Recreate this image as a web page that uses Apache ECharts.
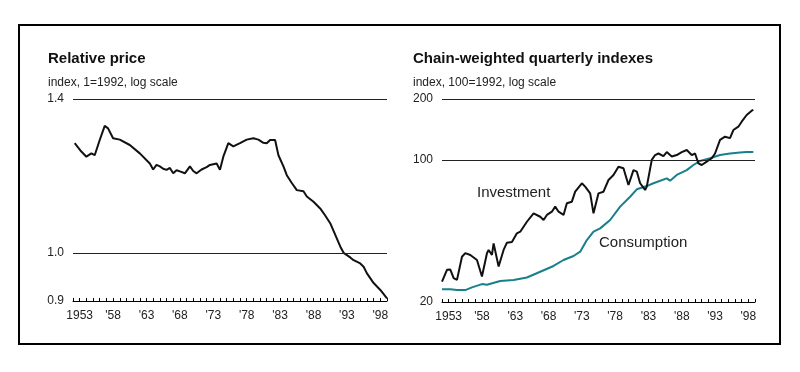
<!DOCTYPE html>
<html>
<head>
<meta charset="utf-8">
<script src="https://cdn.jsdelivr.net/npm/echarts@6/dist/echarts.min.js"></script>
<style>
html,body{margin:0;padding:0;background:#fff;}
#chart{width:800px;height:372px;}
</style>
</head>
<body>
<div id="chart"></div>
<script>
// ---- Data (decimal years) ----
const relYears = [1952.75,1953.75,1954.5,1955.25,1955.75,1956.5,1957.25,1957.75,1958.5,1959.5,1961.0,1962.5,1964.0,1964.5,1965.0,1965.5,1966.0,1966.5,1967.0,1967.5,1968.0,1968.5,1969.25,1970.0,1970.5,1971.0,1971.75,1972.5,1973.0,1974.0,1974.5,1975.0,1975.75,1976.5,1977.5,1978.5,1979.5,1980.25,1981.0,1981.5,1982.0,1982.75,1983.25,1984.0,1984.5,1985.25,1986.0,1987.0,1987.5,1988.5,1989.5,1990.25,1991.0,1992.5,1993.0,1994.0,1994.5,1995.5,1996.0,1996.5,1997.5,1998.5,1999.5];
const relValues = [1.271,1.248,1.234,1.243,1.238,1.280,1.320,1.313,1.285,1.281,1.266,1.243,1.216,1.200,1.212,1.208,1.202,1.199,1.204,1.190,1.198,1.195,1.190,1.208,1.196,1.190,1.200,1.206,1.212,1.216,1.199,1.234,1.271,1.262,1.271,1.281,1.285,1.281,1.272,1.271,1.280,1.280,1.238,1.208,1.185,1.165,1.147,1.144,1.131,1.118,1.102,1.085,1.067,1.014,1.000,0.990,0.984,0.977,0.970,0.956,0.936,0.922,0.905];

const invYears = [1952.5,1953.25,1953.75,1954.25,1954.75,1955.5,1956.0,1956.75,1957.75,1958.5,1959.25,1959.5,1960.0,1960.25,1961.0,1961.75,1962.25,1963.0,1963.75,1964.25,1965.25,1966.25,1967.25,1967.75,1968.25,1969.0,1969.5,1970.0,1970.75,1971.25,1972.0,1972.5,1973.5,1974.0,1974.75,1975.25,1975.5,1976.0,1976.75,1977.5,1978.25,1979.0,1979.75,1980.5,1981.25,1981.75,1982.25,1983.0,1983.25,1984.0,1984.5,1985.0,1985.75,1986.25,1987.0,1987.75,1988.5,1989.25,1990.0,1990.5,1991.0,1991.5,1992.25,1993.0,1993.5,1994.25,1995.0,1995.75,1996.25,1997.0,1997.5,1998.25,1999.0,1999.25];
const invValues = [25.2,28.8,28.9,26.2,25.7,33.4,34.8,34.1,32.2,26.7,34.8,36.1,34.1,38.9,29.9,36.1,39.2,39.5,43.6,44.4,49.7,54.7,52.6,50.7,53.7,55.7,59.0,55.7,53.7,61.3,62.4,69.9,76.9,74.0,68.6,54.7,53.7,68.6,69.9,79.8,84.5,92.8,91.2,75.4,89.3,87.8,76.9,71.3,74.0,100.2,105.9,107.8,104.7,109.5,104.2,105.9,109.5,112.2,105.9,107.8,96.4,94.6,98.3,102.1,107.8,125.7,130.4,128.3,140.7,146.1,154.6,166.8,175.2,177.0];

const conYears = [1952.5,1953.75,1954.75,1956.0,1957.0,1958.5,1959.25,1961.25,1963.25,1965.25,1967.25,1969.25,1970.75,1972.25,1973.25,1974.25,1975.25,1976.25,1977.75,1979.25,1980.75,1981.75,1983.25,1984.25,1986.25,1986.75,1987.75,1989.25,1990.25,1991.25,1992.75,1994.25,1995.75,1997.25,1998.25,1999.25];
const conValues = [23.1,23.1,22.9,22.9,23.6,24.5,24.3,25.4,25.7,26.4,28.2,30.1,32.2,33.7,35.4,40.4,44.4,46.1,50.7,59.0,66.0,71.8,74.5,76.9,81.3,79.2,84.5,89.3,94.6,99.0,102.1,105.9,107.8,109.0,109.5,109.5];

// ---- Axis ticks / labels ----
const xLabelYears = [1953,1958,1963,1968,1973,1978,1983,1988,1993,1998];
const xLabelText = ['1953',"'58","'63","'68","'73","'78","'83","'88","'93","'98"];
const relTicks = [0.9, 1.0, 1.4];
const relTickText = ['0.9','1.0','1.4'];
const idxTicks = [20, 100, 200];
const idxTickText = ['20','100','200'];

const X_MIN = 1952.5, X_MAX = 1999.5;
const tickPos = [];
for (let y = X_MIN; y <= X_MAX + 1e-9; y += 1) tickPos.push(y);
const labelPos = xLabelYears.map(y => y + 0.5);

const FONT = '"Liberation Sans", Arial, sans-serif';
const TXT = '#222';

function pairs(xs, ys){ return xs.map((x,i)=>[x, ys[i]]); }

function xAxisCfg(gi){
  return {
    type:'value', gridIndex:gi, min:X_MIN, max:X_MAX,
    axisLine:{show:true, onZero:false, lineStyle:{color:'#000', width:1}},
    axisTick:{show:true, inside:true, length:3, customValues:tickPos, lineStyle:{color:'#000', width:1}},
    axisLabel:{show:true, customValues:labelPos, margin:9, fontSize:12, fontFamily:FONT, color:TXT,
      formatter:function(v){ const i = xLabelYears.indexOf(Math.round(v-0.5)); return i>=0 ? xLabelText[i] : ''; }},
    splitLine:{show:false}
  };
}
function yAxisCfg(gi, mn, mx){
  return {type:'log', gridIndex:gi, min:mn, max:mx, logBase:10,
    axisLine:{show:false}, axisTick:{show:false}, axisLabel:{show:false}, splitLine:{show:false}};
}
function gridLines(ticks, texts, minVal){
  return {
    silent:true, symbol:'none', animation:false,
    data: ticks.map((v,i)=>({
      yAxis:v,
      label:{show:true, position:'start', distance:9, formatter:texts[i], fontSize:12, fontFamily:FONT, color:TXT},
      lineStyle:{color: v===minVal ? 'rgba(0,0,0,0)' : '#222', width:1, type:'solid'}
    }))
  };
}

const chart = echarts.init(document.getElementById('chart'), null, {renderer:'canvas'});
chart.setOption({
  animation:false,
  backgroundColor:'#fff',
  title:[
    {text:'Relative price', left:48, top:51, padding:0, textStyle:{fontFamily:FONT, fontSize:15, fontWeight:'bold', color:'#111'}},
    {text:'index, 1=1992, log scale', left:48, top:77, padding:0, textStyle:{fontFamily:FONT, fontSize:12, fontWeight:'normal', color:TXT}},
    {text:'Chain-weighted quarterly indexes', left:413, top:51, padding:0, textStyle:{fontFamily:FONT, fontSize:15, fontWeight:'bold', color:'#111'}},
    {text:'index, 100=1992, log scale', left:413, top:77, padding:0, textStyle:{fontFamily:FONT, fontSize:12, fontWeight:'normal', color:TXT}}
  ],
  grid:[
    {left:73, top:99, width:314, height:202},
    {left:442, top:99, width:313, height:203}
  ],
  xAxis:[xAxisCfg(0), xAxisCfg(1)],
  yAxis:[yAxisCfg(0, 0.9, 1.4), yAxisCfg(1, 20, 200)],
  series:[
    {type:'line', name:'Relative price', xAxisIndex:0, yAxisIndex:0, data:pairs(relYears, relValues),
      showSymbol:false, lineStyle:{color:'#111', width:2}, itemStyle:{color:'#111'},
      markLine:gridLines(relTicks, relTickText, 0.9), z:3},
    {type:'line', name:'Consumption', xAxisIndex:1, yAxisIndex:1, data:pairs(conYears, conValues),
      showSymbol:false, lineStyle:{color:'#17808a', width:2}, itemStyle:{color:'#17808a'},
      markLine:gridLines(idxTicks, idxTickText, 20), z:3},
    {type:'line', name:'Investment', xAxisIndex:1, yAxisIndex:1, data:pairs(invYears, invValues),
      showSymbol:false, lineStyle:{color:'#111', width:2}, itemStyle:{color:'#111'}, z:4}
  ],
  graphic:[
    {type:'rect', shape:{x:19, y:25, width:761, height:319}, style:{fill:'none', stroke:'#000', lineWidth:2}, silent:true},
    {type:'text', x:477, y:193, style:{text:'Investment', font:'15px ' + FONT, fill:TXT, verticalAlign:'middle'}, silent:true},
    {type:'text', x:599, y:243, style:{text:'Consumption', font:'15px ' + FONT, fill:TXT, verticalAlign:'middle'}, silent:true}
  ]
});
</script>
</body>
</html>
